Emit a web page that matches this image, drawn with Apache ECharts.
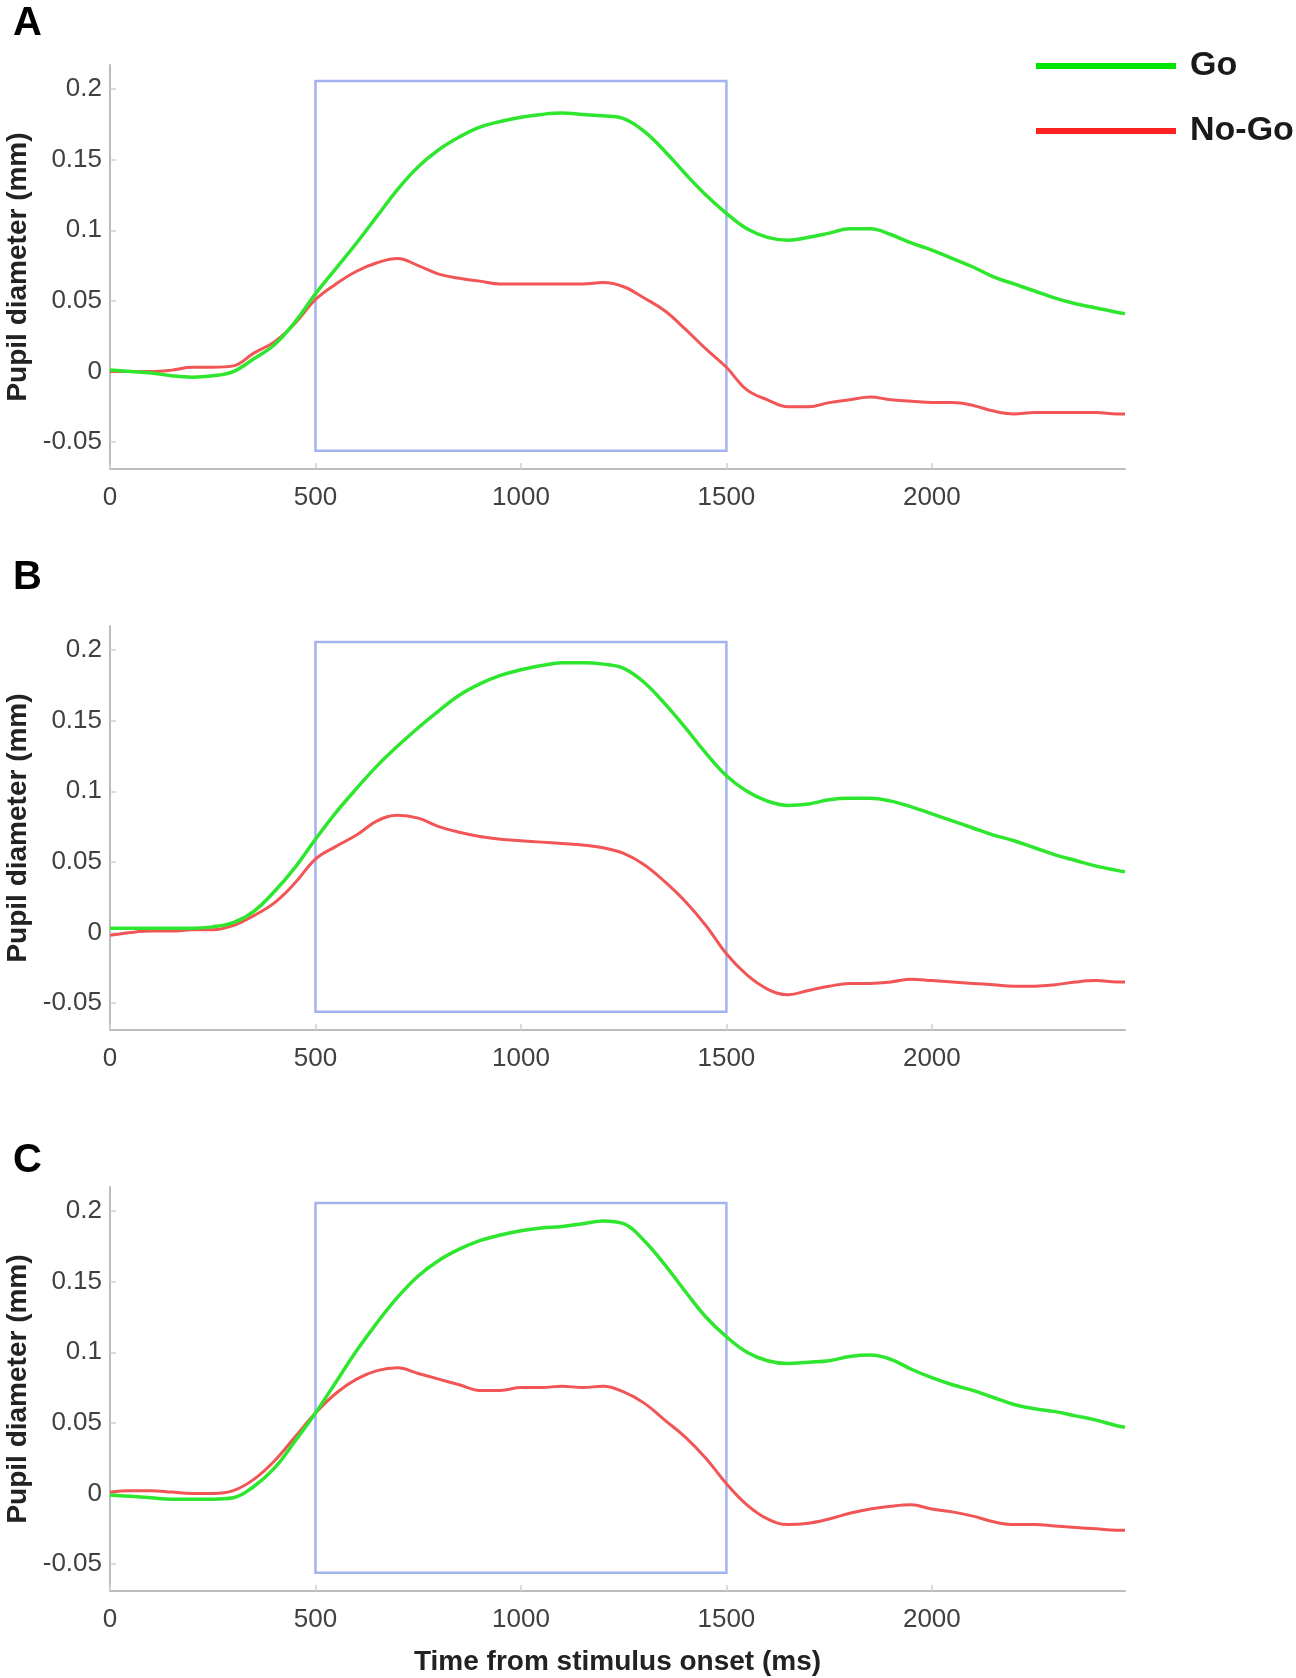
<!DOCTYPE html>
<html>
<head>
<meta charset="utf-8">
<title>Pupil diameter Go / No-Go</title>
<script src="https://cdn.jsdelivr.net/npm/echarts@6/dist/echarts.min.js"></script>
<style>
  html, body { margin: 0; padding: 0; background: #fff; }
  #chart { width: 1296px; height: 1678px; }
</style>
</head>
<body>
<div id="chart"></div>
<script>
// time points (ms)
var times = [0, 50, 100, 150, 200, 250, 300, 350, 400, 450,
  500, 550, 600, 650, 700, 750, 800, 850, 900, 950,
  1000, 1050, 1100, 1150, 1200, 1250, 1300, 1350, 1400, 1450,
  1500, 1550, 1600, 1650, 1700, 1750, 1800, 1850, 1900, 1950,
  2000, 2050, 2100, 2150, 2200, 2250, 2300, 2350, 2400, 2450,
  2470];

// panel A
var goA = [0.001, 0.000, -0.001, -0.003, -0.004, -0.003, 0.000, 0.009, 0.019, 0.035,
  0.055, 0.073, 0.091, 0.110, 0.129, 0.145, 0.157, 0.166, 0.173, 0.177,
  0.180, 0.182, 0.183, 0.182, 0.181, 0.179, 0.170, 0.156, 0.140, 0.125,
  0.112, 0.101, 0.095, 0.093, 0.095, 0.098, 0.101, 0.101, 0.097, 0.091,
  0.086, 0.080, 0.074, 0.067, 0.062, 0.057, 0.052, 0.048, 0.045, 0.042,
  0.041];
var nogoA = [0.000, 0.000, 0.000, 0.001, 0.003, 0.003, 0.004, 0.013, 0.021, 0.034,
  0.051, 0.062, 0.071, 0.077, 0.080, 0.075, 0.069, 0.066, 0.064, 0.062,
  0.062, 0.062, 0.062, 0.062, 0.063, 0.060, 0.052, 0.043, 0.030, 0.016,
  0.003, -0.013, -0.020, -0.025, -0.025, -0.022, -0.020, -0.018, -0.020, -0.021,
  -0.022, -0.022, -0.024, -0.028, -0.030, -0.029, -0.029, -0.029, -0.029, -0.030,
  -0.030];

// panel B
var goB = [0.003, 0.003, 0.003, 0.003, 0.003, 0.004, 0.007, 0.015, 0.029, 0.046,
  0.066, 0.085, 0.102, 0.118, 0.132, 0.145, 0.157, 0.168, 0.176, 0.182,
  0.186, 0.189, 0.191, 0.191, 0.190, 0.187, 0.177, 0.162, 0.145, 0.127,
  0.111, 0.100, 0.093, 0.090, 0.091, 0.094, 0.095, 0.095, 0.093, 0.089,
  0.084, 0.079, 0.074, 0.069, 0.065, 0.060, 0.055, 0.051, 0.047, 0.044,
  0.043];
var nogoB = [-0.002, 0.000, 0.001, 0.001, 0.002, 0.002, 0.005, 0.012, 0.021, 0.035,
  0.052, 0.061, 0.069, 0.079, 0.083, 0.081, 0.075, 0.071, 0.068, 0.066,
  0.065, 0.064, 0.063, 0.062, 0.060, 0.056, 0.048, 0.036, 0.022, 0.005,
  -0.015, -0.030, -0.040, -0.044, -0.041, -0.038, -0.036, -0.036, -0.035, -0.033,
  -0.034, -0.035, -0.036, -0.037, -0.038, -0.038, -0.037, -0.035, -0.034, -0.035,
  -0.035];

// panel C
var goC = [-0.001, -0.002, -0.003, -0.004, -0.004, -0.004, -0.003, 0.005, 0.018, 0.037,
  0.057, 0.079, 0.101, 0.121, 0.139, 0.154, 0.165, 0.173, 0.179, 0.183,
  0.186, 0.188, 0.189, 0.191, 0.193, 0.191, 0.179, 0.162, 0.143, 0.125,
  0.111, 0.100, 0.094, 0.092, 0.093, 0.094, 0.097, 0.098, 0.095, 0.088,
  0.082, 0.077, 0.073, 0.068, 0.063, 0.060, 0.058, 0.055, 0.052, 0.048,
  0.047];
var nogoC = [0.001, 0.002, 0.002, 0.001, 0.000, 0.000, 0.002, 0.010, 0.023, 0.040,
  0.057, 0.071, 0.081, 0.087, 0.089, 0.085, 0.081, 0.077, 0.073, 0.073,
  0.075, 0.075, 0.076, 0.075, 0.076, 0.072, 0.064, 0.052, 0.040, 0.025,
  0.007, -0.008, -0.018, -0.022, -0.021, -0.018, -0.014, -0.011, -0.009, -0.008,
  -0.011, -0.013, -0.016, -0.020, -0.022, -0.022, -0.023, -0.024, -0.025, -0.026,
  -0.026];

var panelLetters = ['A', 'B', 'C'];
var goSeries = [goA, goB, goC];
var nogoSeries = [nogoA, nogoB, nogoC];

// axis ticks and ranges
var xTicks = [0, 500, 1000, 1500, 2000];
var yTicks = [-0.05, 0, 0.05, 0.1, 0.15, 0.2];
var xRange = [0, 2470];
var yRange = [-0.069, 0.217];

// analysis window box (ms, mm)
var boxX = [500, 1500];
var boxY = [-0.056, 0.2057];

var FONT = '"Liberation Sans", Arial, Helvetica, sans-serif';
var gridTops = [65, 626, 1187];
var letterTops = [4, 558, 1141];

function pairs(arr) {
  return times.map(function (t, i) { return [t, arr[i]]; });
}

var chart = echarts.init(document.getElementById('chart'), null, { renderer: 'canvas' });

var grids = [], xAxes = [], yAxes = [], series = [], graphics = [];

panelLetters.forEach(function (letter, i) {
  grids.push({ left: 110, top: gridTops[i], width: 1015, height: 404, containLabel: false, outerBoundsMode: 'none' });

  xAxes.push({
    type: 'value',
    gridIndex: i,
    min: xRange[0],
    max: xRange[1],
    name: i === 2 ? 'Time from stimulus onset (ms)' : '',
    nameLocation: 'middle',
    nameGap: 57,
    nameTextStyle: { fontFamily: FONT, fontSize: 28, fontWeight: 'bold', color: '#222' },
    axisLine: { show: true, onZero: false, lineStyle: { color: '#bcbcbc', width: 2 } },
    axisTick: { show: true, inside: true, length: 6, customValues: xTicks, lineStyle: { color: '#cfcfcf', width: 1.5 } },
    axisLabel: {
      customValues: xTicks,
      formatter: function (v) { return String(v); },
      fontFamily: FONT, fontSize: 26, color: '#404040', margin: 16
    },
    splitLine: { show: false }
  });

  yAxes.push({
    type: 'value',
    gridIndex: i,
    min: yRange[0],
    max: yRange[1],
    name: 'Pupil diameter (mm)',
    nameLocation: 'middle',
    nameGap: 78,
    nameTextStyle: { fontFamily: FONT, fontSize: 28, fontWeight: 'bold', color: '#222' },
    axisLine: { show: true, onZero: false, lineStyle: { color: '#bcbcbc', width: 2 } },
    axisTick: { show: true, inside: true, length: 6, customValues: yTicks, lineStyle: { color: '#cfcfcf', width: 1.5 } },
    axisLabel: { customValues: yTicks, fontFamily: FONT, fontSize: 26, color: '#404040', margin: 8 },
    splitLine: { show: false }
  });

  series.push({
    name: 'Go',
    type: 'line',
    xAxisIndex: i,
    yAxisIndex: i,
    data: pairs(goSeries[i]),
    showSymbol: false,
    smooth: 0.4,
    lineStyle: { color: '#2ee62e', width: 3.5 },
    itemStyle: { color: '#2ee62e' },
    z: 3,
    markArea: {
      silent: true,
      itemStyle: { color: 'rgba(0,0,0,0)', borderColor: '#a3b3ef', borderWidth: 2.5 },
      data: [[{ coord: [boxX[0], boxY[0]] }, { coord: [boxX[1], boxY[1]] }]]
    }
  });
  series.push({
    name: 'No-Go',
    type: 'line',
    xAxisIndex: i,
    yAxisIndex: i,
    data: pairs(nogoSeries[i]),
    showSymbol: false,
    smooth: 0.4,
    lineStyle: { color: '#f25555', width: 3 },
    itemStyle: { color: '#f25555' },
    z: 2
  });

  graphics.push({
    type: 'text',
    left: 13,
    top: letterTops[i],
    style: { text: letter, font: 'bold 40px ' + FONT, fill: '#000' }
  });
});

var option = {
  animation: false,
  backgroundColor: '#ffffff',
  grid: grids,
  xAxis: xAxes,
  yAxis: yAxes,
  legend: {
    orient: 'vertical',
    left: 1031,
    top: 41,
    icon: 'rect',
    itemWidth: 140,
    itemHeight: 6,
    itemGap: 25,
    data: [
      { name: 'Go', itemStyle: { color: '#00e600' } },
      { name: 'No-Go', itemStyle: { color: '#ff2020' } }
    ],
    textStyle: { fontFamily: FONT, fontSize: 34, fontWeight: 'bold', color: '#1a1a1a', lineHeight: 40, padding: [0, 0, 0, 9] }
  },
  graphic: graphics,
  series: series
};

chart.setOption(option);
</script>
</body>
</html>
